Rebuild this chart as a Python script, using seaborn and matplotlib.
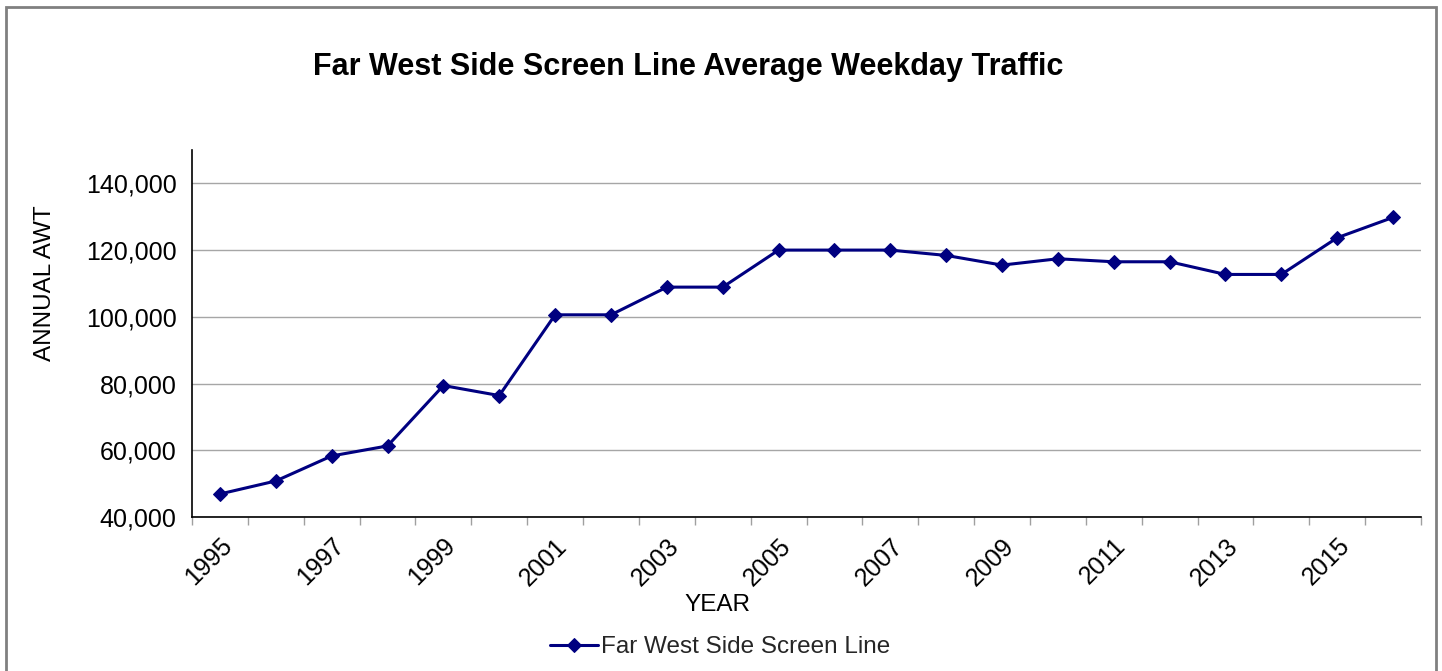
import pandas as pd
import seaborn as sns
import matplotlib.pyplot as plt
from matplotlib.patches import Rectangle
from matplotlib.ticker import FuncFormatter, MultipleLocator

# Datos
anios = list(range(1995, 2017))
awt = [46900, 50800, 58300, 61300, 79400, 76400, 100600, 100600, 108900, 108900,
       120000, 120000, 120000, 118400, 115500, 117400, 116500, 116500, 112700, 112700,
       123700, 129800]
serie = 'Far West Side Screen Line'

df = pd.DataFrame({'YEAR': anios, 'AWT': awt})

sns.set_theme(style='white')
plt.rcParams['font.family'] = ['Liberation Sans', 'DejaVu Sans']

fig = plt.figure(figsize=(14.42, 6.71), dpi=100)
ax = fig.add_axes([192 / 1442, 1 - 517 / 671, (1421 - 192) / 1442, (517 - 150) / 671])

sns.lineplot(data=df, x='YEAR', y='AWT', color='#000080', linewidth=2.2,
             marker='D', markersize=7, markeredgecolor='#000080', label=serie, ax=ax)

ax.set_xlim(1994.5, 2016.5)
ax.set_ylim(40000, 150000)
ax.set_yticks(range(40000, 140001, 20000))
ax.yaxis.set_major_formatter(FuncFormatter(lambda v, p: f'{int(v):,}'))
ax.set_xticks(anios[::2])
ax.xaxis.set_minor_locator(MultipleLocator(1, offset=0.5))
ax.grid(axis='y', color='#a6a6a6', linewidth=1)

ax.tick_params(axis='y', which='major', length=5, color='#a0a0a0', labelsize=18, labelcolor='black', pad=6)
ax.tick_params(axis='x', which='major', length=0, labelsize=18, labelcolor='black', pad=12)
ax.tick_params(axis='x', which='minor', length=6, color='#a0a0a0', bottom=True)
for lbl in ax.get_xticklabels():
    lbl.set_rotation(45)
    lbl.set_ha('right')
    lbl.set_rotation_mode('anchor')

ax.set_xlabel('YEAR', fontsize=17.5, color='black')
ax.xaxis.set_label_coords((717 - 192) / 1229, (517 - 605) / 367)
ax.xaxis.label.set_va('center')
ax.set_ylabel('ANNUAL AWT', fontsize=17.5, color='black')
ax.yaxis.set_label_coords((45 - 192) / 1229, (517 - 283) / 367)
ax.yaxis.label.set_va('center')

sns.despine(ax=ax)
for s in ['left', 'bottom']:
    ax.spines[s].set_color('black')
    ax.spines[s].set_linewidth(1.2)

fig.text(688 / 1442, 1 - 67 / 671, 'Far West Side Screen Line Average Weekday Traffic',
         ha='center', va='center', fontsize=22, fontweight='bold', color='black')

ax.legend(loc='center', bbox_to_anchor=(720 / 1442, 1 - 647 / 671), bbox_transform=fig.transFigure,
          frameon=False, fontsize=17.5, handlelength=2.0, handletextpad=0.1)

fig.patches.append(Rectangle((6 / 1442, -0.05), (1436 - 6) / 1442, 1.05 - 7 / 671,
                             transform=fig.transFigure, fill=False, edgecolor='#808080', linewidth=2))

fig.savefig('out.png', dpi=100)
